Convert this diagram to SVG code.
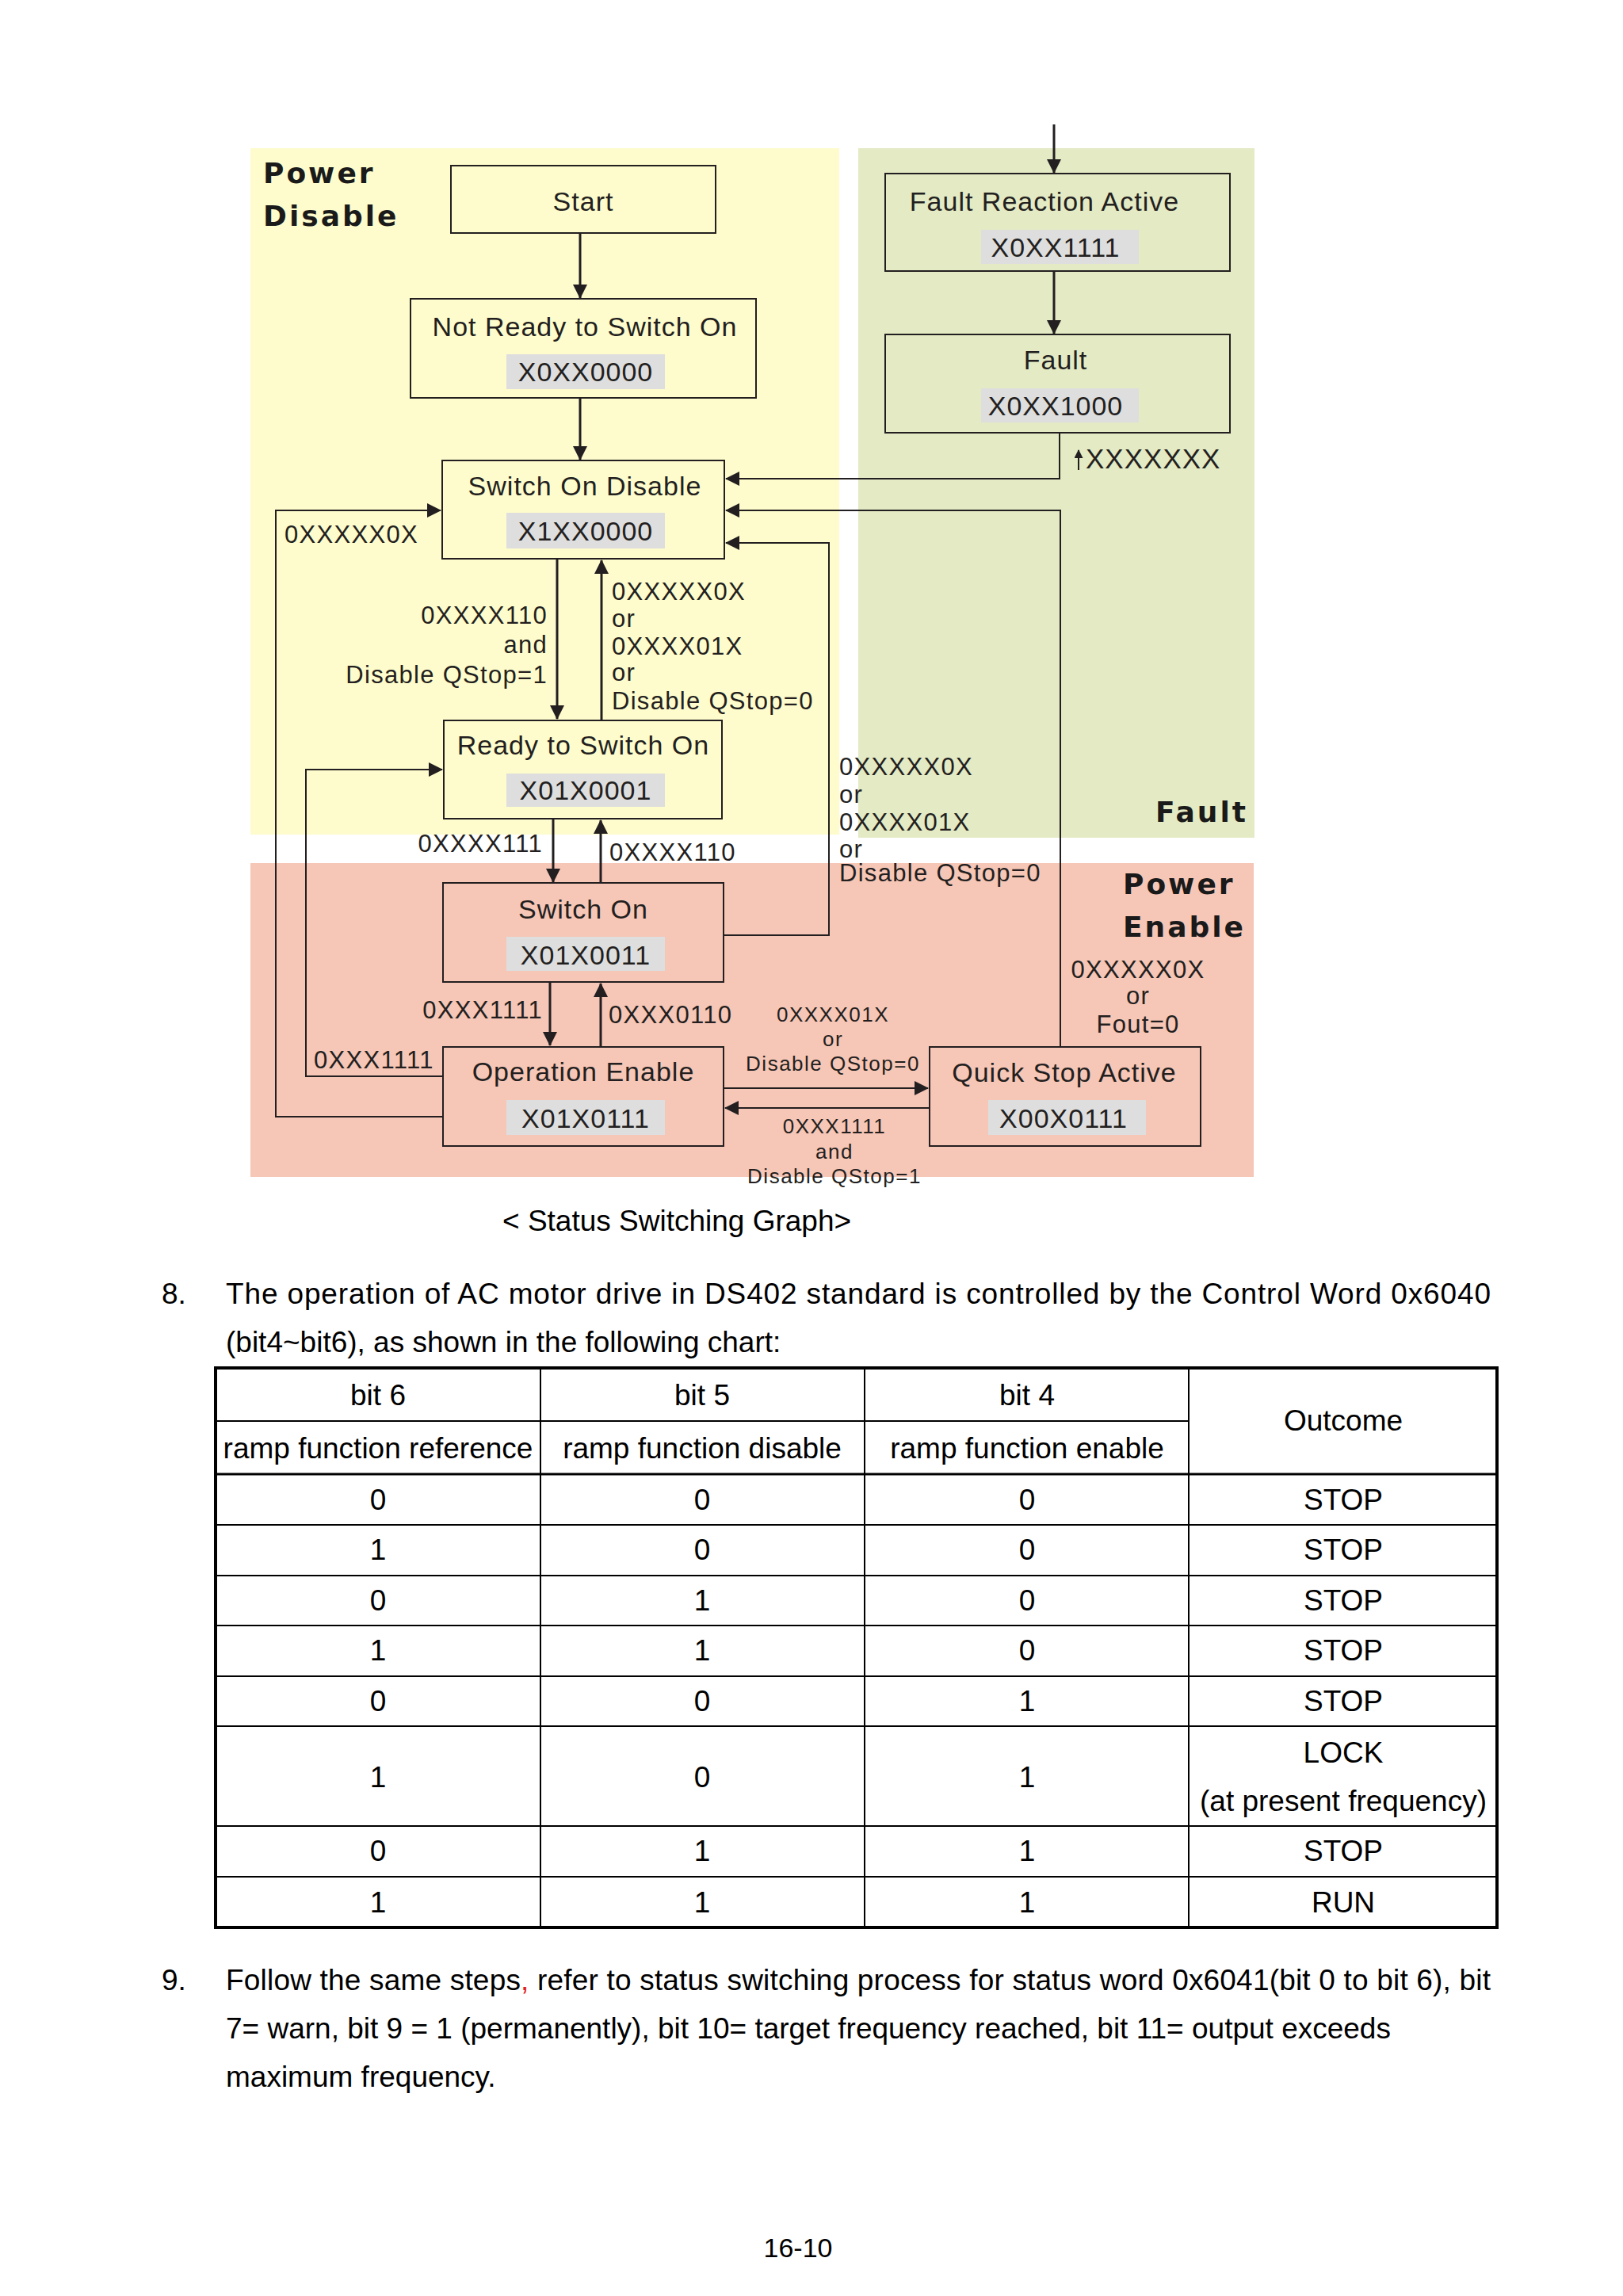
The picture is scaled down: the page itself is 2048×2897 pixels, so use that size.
<svg xmlns="http://www.w3.org/2000/svg" width="2048" height="2897" viewBox="0 0 2048 2897">
<defs>
<marker id="ah" markerUnits="userSpaceOnUse" markerWidth="18" markerHeight="18" viewBox="0 0 18 18" refX="17" refY="9" orient="auto"><path d="M0,0 L18,9 L0,18 z" fill="#231f20"/></marker>
<marker id="ahs" markerUnits="userSpaceOnUse" markerWidth="11" markerHeight="11" viewBox="0 0 11 11" refX="10" refY="5.5" orient="auto"><path d="M0,0 L11,5.5 L0,11 z" fill="#231f20"/></marker>
<style>
.b{fill:none;stroke:#231f20;stroke-width:2}
.code{fill:#dedede}
.t{font-family:"Liberation Sans",Arial,sans-serif;font-size:34px;letter-spacing:1px;fill:#231f20;text-anchor:middle}
.lbl{font-family:"Liberation Sans",Arial,sans-serif;font-size:31px;letter-spacing:1.3px;fill:#231f20}
.sm{font-size:26px;letter-spacing:1.5px}
.end{text-anchor:end}
.mid{text-anchor:middle}
.zone{font-family:"DejaVu Sans",sans-serif;font-weight:bold;font-size:36px;letter-spacing:3px;fill:#1a1a1a}
.c{fill:none;stroke:#231f20;stroke-width:2}
.c3{stroke-width:3}
.body{font-family:"Liberation Sans",Arial,sans-serif;font-size:37px;fill:#000}
.cell{font-family:"Liberation Sans",Arial,sans-serif;font-size:37px;fill:#000;text-anchor:middle}
.tl{stroke:#000;stroke-width:2;fill:none}
</style>
</defs>
<rect width="2048" height="2897" fill="#ffffff"/>
<g id="regions">
<rect x="316" y="187" width="743" height="866" fill="#fefccc"/>
<rect x="1083" y="187" width="500" height="870" fill="#e3eac4"/>
<rect x="316" y="1089" width="1266" height="396" fill="#f6c6b6"/>
<text class="zone" x="332" y="231">Power</text>
<text class="zone" x="332" y="285">Disable</text>
<text class="zone" x="1458" y="1037">Fault</text>
<text class="zone" x="1417" y="1128">Power</text>
<text class="zone" x="1417" y="1182">Enable</text>
</g>
<g id="connectors">
<path class="c c3" d="M1330,157 V218" marker-end="url(#ah)"/>
<path class="c c3" d="M732,294 V376" marker-end="url(#ah)"/>
<path class="c c3" d="M732,502 V580" marker-end="url(#ah)"/>
<path class="c c3" d="M1330,342 V421" marker-end="url(#ah)"/>
<path class="c" d="M1337,546 V604 H916" marker-end="url(#ah)"/>
<path class="c" d="M1338,1321 V644 H916" marker-end="url(#ah)"/>
<path class="c" d="M913,1180 H1046 V685 H916" marker-end="url(#ah)"/>
<path class="c" d="M559,1409 H348 V644 H556" marker-end="url(#ah)"/>
<path class="c" d="M559,1358 H386 V971 H558" marker-end="url(#ah)"/>
<path class="c c3" d="M703,705 V907" marker-end="url(#ah)"/>
<path class="c c3" d="M759,909 V707" marker-end="url(#ah)"/>
<path class="c c3" d="M698,1034 V1113" marker-end="url(#ah)"/>
<path class="c c3" d="M758,1114 V1035" marker-end="url(#ah)"/>
<path class="c c3" d="M694,1240 V1319" marker-end="url(#ah)"/>
<path class="c c3" d="M758,1321 V1241" marker-end="url(#ah)"/>
<path class="c" d="M913,1373 H1171" marker-end="url(#ah)"/>
<path class="c" d="M1173,1398 H915" marker-end="url(#ah)"/>
<path class="c" d="M1361,593 V568" marker-end="url(#ahs)"/>
</g>
<g id="labels">
<text class="lbl" x="1370" y="591" style="font-size:35px;letter-spacing:1px">XXXXXXX</text>
<text class="lbl" x="359" y="685">0XXXXX0X</text>
<text class="lbl end" x="691" y="787">0XXXX110</text>
<text class="lbl end" x="691" y="824">and</text>
<text class="lbl end" x="691" y="862">Disable QStop=1</text>
<text class="lbl" x="772" y="757">0XXXXX0X</text>
<text class="lbl" x="772" y="791">or</text>
<text class="lbl" x="772" y="826">0XXXX01X</text>
<text class="lbl" x="772" y="859">or</text>
<text class="lbl" x="772" y="895">Disable QStop=0</text>
<text class="lbl" x="1059" y="978">0XXXXX0X</text>
<text class="lbl" x="1059" y="1013">or</text>
<text class="lbl" x="1059" y="1048">0XXXX01X</text>
<text class="lbl" x="1059" y="1082">or</text>
<text class="lbl" x="1059" y="1112">Disable QStop=0</text>
<text class="lbl end" x="685" y="1075">0XXXX111</text>
<text class="lbl" x="769" y="1086">0XXXX110</text>
<text class="lbl end" x="685" y="1285">0XXX1111</text>
<text class="lbl" x="768" y="1291">0XXX0110</text>
<text class="lbl" x="396" y="1348">0XXX1111</text>
<text class="lbl mid" x="1436" y="1234">0XXXXX0X</text>
<text class="lbl mid" x="1436" y="1267">or</text>
<text class="lbl mid" x="1436" y="1303">Fout=0</text>
<text class="lbl sm mid" x="1051" y="1289">0XXXX01X</text>
<text class="lbl sm mid" x="1051" y="1320">or</text>
<text class="lbl sm mid" x="1051" y="1351">Disable QStop=0</text>
<text class="lbl sm mid" x="1053" y="1430">0XXX1111</text>
<text class="lbl sm mid" x="1053" y="1462">and</text>
<text class="lbl sm mid" x="1053" y="1493">Disable QStop=1</text>
</g>
<g id="node-start"><rect class="b" x="569" y="209" width="334" height="85"/><text class="t" x="736" y="266">Start</text></g>
<g id="node-not-ready"><rect class="b" x="518" y="377" width="436" height="125"/><text class="t" x="738" y="424">Not Ready to Switch On</text><rect class="code" x="639" y="447" width="200" height="44"/><text class="t" x="739" y="481">X0XX0000</text></g>
<g id="node-switch-on-disable"><rect class="b" x="558" y="581" width="356" height="124"/><text class="t" x="738" y="625">Switch On Disable</text><rect class="code" x="639" y="647" width="200" height="45"/><text class="t" x="739" y="682">X1XX0000</text></g>
<g id="node-ready"><rect class="b" x="560" y="909" width="351" height="124"/><text class="t" x="736" y="952">Ready to Switch On</text><rect class="code" x="639" y="976" width="200" height="42"/><text class="t" x="739" y="1009">X01X0001</text></g>
<g id="node-switch-on"><rect class="b" x="559" y="1114" width="354" height="125"/><text class="t" x="736" y="1159">Switch On</text><rect class="code" x="639" y="1182" width="200" height="43"/><text class="t" x="739" y="1217">X01X0011</text></g>
<g id="node-operation-enable"><rect class="b" x="559" y="1321" width="354" height="125"/><text class="t" x="736" y="1364">Operation Enable</text><rect class="code" x="639" y="1388" width="200" height="44"/><text class="t" x="739" y="1423">X01X0111</text></g>
<g id="node-fault-reaction"><rect class="b" x="1117" y="219" width="435" height="123"/><text class="t" x="1318" y="266">Fault Reaction Active</text><rect class="code" x="1238" y="290" width="199" height="43"/><text class="t" x="1332" y="324">X0XX1111</text></g>
<g id="node-fault"><rect class="b" x="1117" y="422" width="435" height="124"/><text class="t" x="1332" y="466">Fault</text><rect class="code" x="1238" y="490" width="199" height="43"/><text class="t" x="1332" y="524">X0XX1000</text></g>
<g id="node-quick-stop"><rect class="b" x="1173" y="1321" width="342" height="125"/><text class="t" x="1343" y="1365">Quick Stop Active</text><rect class="code" x="1247" y="1388" width="199" height="44"/><text class="t" x="1342" y="1423">X00X0111</text></g>
<text class="body" x="634" y="1553">&lt; Status Switching Graph&gt;</text>
<g id="para8">
<text class="body" x="204" y="1645">8.</text>
<text class="body" x="285" y="1645" textLength="1596" lengthAdjust="spacing">The operation of AC motor drive in DS402 standard is controlled by the Control Word 0x6040</text>
<text class="body" x="285" y="1706">(bit4~bit6), as shown in the following chart:</text>
</g>
<g id="table">
<line class="tl" x1="682" y1="1726" x2="682" y2="2432"/>
<line class="tl" x1="1091" y1="1726" x2="1091" y2="2432"/>
<line class="tl" x1="1500" y1="1726" x2="1500" y2="2432"/>
<line class="tl" x1="272" y1="1793" x2="1500" y2="1793"/>
<line class="tl" x1="272" y1="1860" x2="1889" y2="1860" style="stroke-width:3"/>
<line class="tl" x1="272" y1="1924" x2="1889" y2="1924"/>
<line class="tl" x1="272" y1="1988" x2="1889" y2="1988"/>
<line class="tl" x1="272" y1="2051" x2="1889" y2="2051"/>
<line class="tl" x1="272" y1="2115" x2="1889" y2="2115"/>
<line class="tl" x1="272" y1="2178" x2="1889" y2="2178"/>
<line class="tl" x1="272" y1="2304" x2="1889" y2="2304"/>
<line class="tl" x1="272" y1="2368" x2="1889" y2="2368"/>
<rect x="272" y="1726" width="1617" height="706" fill="none" stroke="#000" stroke-width="4"/>
<text class="cell" x="477" y="1773">bit 6</text>
<text class="cell" x="886" y="1773">bit 5</text>
<text class="cell" x="1296" y="1773">bit 4</text>
<text class="cell" x="477" y="1840">ramp function reference</text>
<text class="cell" x="886" y="1840">ramp function disable</text>
<text class="cell" x="1296" y="1840">ramp function enable</text>
<text class="cell" x="1695" y="1805">Outcome</text>
<text class="cell" x="477" y="1905">0</text><text class="cell" x="886" y="1905">0</text><text class="cell" x="1296" y="1905">0</text><text class="cell" x="1695" y="1905">STOP</text>
<text class="cell" x="477" y="1968">1</text><text class="cell" x="886" y="1968">0</text><text class="cell" x="1296" y="1968">0</text><text class="cell" x="1695" y="1968">STOP</text>
<text class="cell" x="477" y="2032">0</text><text class="cell" x="886" y="2032">1</text><text class="cell" x="1296" y="2032">0</text><text class="cell" x="1695" y="2032">STOP</text>
<text class="cell" x="477" y="2095">1</text><text class="cell" x="886" y="2095">1</text><text class="cell" x="1296" y="2095">0</text><text class="cell" x="1695" y="2095">STOP</text>
<text class="cell" x="477" y="2159">0</text><text class="cell" x="886" y="2159">0</text><text class="cell" x="1296" y="2159">1</text><text class="cell" x="1695" y="2159">STOP</text>
<text class="cell" x="477" y="2255">1</text><text class="cell" x="886" y="2255">0</text><text class="cell" x="1296" y="2255">1</text><text class="cell" x="1695" y="2224">LOCK</text><text class="cell" x="1695" y="2285">(at present frequency)</text>
<text class="cell" x="477" y="2348">0</text><text class="cell" x="886" y="2348">1</text><text class="cell" x="1296" y="2348">1</text><text class="cell" x="1695" y="2348">STOP</text>
<text class="cell" x="477" y="2413">1</text><text class="cell" x="886" y="2413">1</text><text class="cell" x="1296" y="2413">1</text><text class="cell" x="1695" y="2413">RUN</text>
</g>
<g id="para9">
<text class="body" x="204" y="2511">9.</text>
<text class="body" x="285" y="2511" textLength="1596" lengthAdjust="spacing">Follow the same steps<tspan fill="#e02020">,</tspan> refer to status switching process for status word 0x6041(bit 0 to bit 6), bit</text>
<text class="body" x="285" y="2572">7= warn, bit 9 = 1 (permanently), bit 10= target frequency reached, bit 11= output exceeds</text>
<text class="body" x="285" y="2633">maximum frequency.</text>
</g>
<text class="body" x="1007" y="2848" text-anchor="middle" style="font-size:34px">16-10</text>
</svg>
